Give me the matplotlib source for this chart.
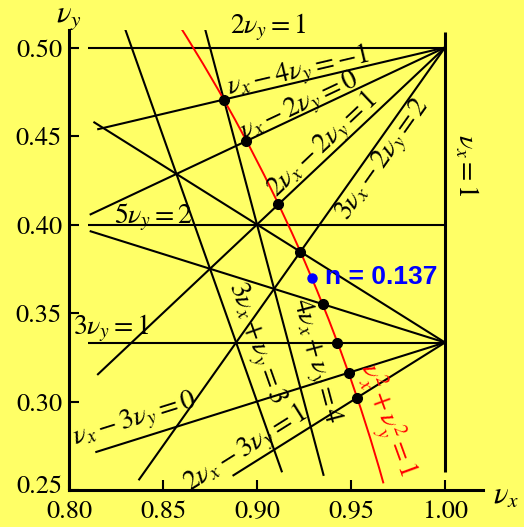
import matplotlib
matplotlib.use('Agg')
import matplotlib.pyplot as plt
from matplotlib.patches import Arc
from matplotlib.transforms import ScaledTranslation

plt.rcParams['mathtext.fontset'] = 'stix'
plt.rcParams['font.family'] = ['STIXGeneral', 'DejaVu Sans']

# ---- data -------------------------------------------------------------
# resonance lines  a*nux + b*nuy = c, drawn over a range of nux
line_a = [0, 0, 0, 1, 1, 2, 3, 2, 1, 1, 2]
line_b = [2, 5, 3, -4, -2, -2, -2, 3, 3, -3, -3]
line_c = [1, 2, 1, -1, 0, 1, 2, 3, 2, 0, 1]
line_nux_start = [0.81, 0.81, 0.81, 0.815, 0.811, 0.815, 0.837, 0.813, 0.811, 0.814, 0.887]
line_nux_end = [1.0, 1.0, 1.0, 1.0, 1.0, 1.0, 1.0, 1.0, 1.0, 1.0, 1.0]

# steep resonance lines  a*nux + b*nuy = c, drawn over a range of nuy
steep_a = [3, 4, 1]
steep_b = [1, 1, 0]
steep_c = [3, 4, 1]
steep_nuy_start = [0.26, 0.258, 0.26]
steep_nuy_end = [0.512, 0.512, 0.509]

# red curve nux^2 + nuy^2 = 1 (unit circle), angular range in degrees
circle_radius = 1.0
circle_theta = [14.7, 30.9]

# intersections of the resonance lines with the circle
dot_nux = [0.8824, 0.8944, 0.9114, 0.9231, 0.9349, 0.9428, 0.9487, 0.9533]
dot_nuy = [0.4706, 0.4472, 0.4114, 0.3846, 0.3550, 0.3333, 0.3162, 0.3022]

# working point for field index n
n_value = 0.137
work_nux = [0.929]
work_nuy = [0.370]

x_ticks = [0.80, 0.85, 0.90, 0.95, 1.00]
x_ticklabels = ['0.80', '0.85', '0.90', '0.95', '1.00']
y_ticks = [0.25, 0.30, 0.35, 0.40, 0.45, 0.50]
y_ticklabels = ['0.25', '0.30', '0.35', '0.40', '0.45', '0.50']

label_texts = [r'$2\nu_y = 1$', r'$\nu_x - 4\nu_y = -1$', r'$\nu_x - 2\nu_y = 0$',
               r'$2\nu_x - 2\nu_y = 1$', r'$3\nu_x - 2\nu_y = 2$', r'$\nu_x = 1$',
               r'$5\nu_y = 2$', r'$3\nu_y = 1$', r'$\nu_x - 3\nu_y = 0$',
               r'$2\nu_x - 3\nu_y = 1$', r'$3\nu_x + \nu_y = 3$', r'$4\nu_x + \nu_y = 4$']
label_x = [0.9059, 0.9218, 0.9229, 0.9351, 0.9676, 1.0112,
           0.8447, 0.8223, 0.8351, 0.8941, 0.8995, 0.9309]
label_y = [0.5116, 0.4862, 0.4664, 0.4449, 0.4364, 0.4336,
           0.4042, 0.3415, 0.2895, 0.2732, 0.3331, 0.3229]
label_rot = [0, 13.2, 25.2, 43.3, 54.7, -90,
             0, 0, 17.4, 32.1, -70.5, -75.1]

circle_label = r'$\nu_x^2 + \nu_y^2 = 1$'
circle_label_pos = [0.9686, 0.2895]

# ---- figure -----------------------------------------------------------
yellow = '#ffff66'
fig = plt.figure(figsize=(5.24, 5.27), dpi=100, facecolor=yellow)
ax = fig.add_axes([69/524, 37/527, 414/524, 460/527])
ax.set_facecolor(yellow)
ax.set_xlim(0.80, 1.0202)
ax.set_ylim(0.25, 0.5099)

lw = 1.5
for a, b, c, x0, x1 in zip(line_a, line_b, line_c, line_nux_start, line_nux_end):
    ys = [(c - a * x0) / b, (c - a * x1) / b]
    ax.plot([x0, x1], ys, color='black', lw=lw, solid_capstyle='butt', zorder=2)

for a, b, c, y0, y1 in zip(steep_a, steep_b, steep_c, steep_nuy_start, steep_nuy_end):
    xs = [(c - b * y0) / a, (c - b * y1) / a]
    width = 2.2 if b == 0 else lw
    ax.plot(xs, [y0, y1], color='black', lw=width, solid_capstyle='butt', zorder=2)

ax.add_patch(Arc((0, 0), 2 * circle_radius, 2 * circle_radius,
                 theta1=circle_theta[0], theta2=circle_theta[1],
                 color='red', lw=1.4, zorder=3))

ax.plot(dot_nux, dot_nuy, 'o', color='black', ms=7, zorder=4, clip_on=False)
ax.plot(work_nux, work_nuy, 'o', color='blue', ms=6.5, zorder=4)
ax.text(0.9362, 0.3703, f'n = {n_value}', color='blue', fontsize=19,
        fontweight='bold', family=['Liberation Sans', 'DejaVu Sans'],
        ha='left', va='center', zorder=5)

for t, x, y, r in zip(label_texts, label_x, label_y, label_rot):
    ax.text(x, y, t, fontsize=20, rotation=r, rotation_mode='anchor',
            ha='center', va='center', color='black', zorder=5)

ax.text(circle_label_pos[0], circle_label_pos[1], circle_label, fontsize=20,
        rotation=-70, rotation_mode='anchor', ha='center', va='center',
        color='red', zorder=5)

# axes styling
for s in ['top', 'right']:
    ax.spines[s].set_visible(False)
for s in ['left', 'bottom']:
    ax.spines[s].set_linewidth(2.2)
ax.set_xticks(x_ticks)
ax.set_xticklabels(x_ticklabels)
ax.set_yticks(y_ticks)
ax.set_yticklabels(y_ticklabels)
ax.tick_params(direction='in', length=7, width=1.5, labelsize=19, pad=5)
ax.tick_params(axis='x', pad=7)
lab = ax.get_yticklabels()[0]
lab.set_transform(lab.get_transform() + ScaledTranslation(0, 6/100, fig.dpi_scale_trans))

ax.text(0.80, 0.5167, r'$\nu_y$', fontsize=22, ha='center', va='center', clip_on=False)
ax.text(1.0324, 0.246, r'$\nu_x$', fontsize=22, ha='center', va='center', clip_on=False)

fig.savefig('out.png', dpi=100, facecolor=yellow)
